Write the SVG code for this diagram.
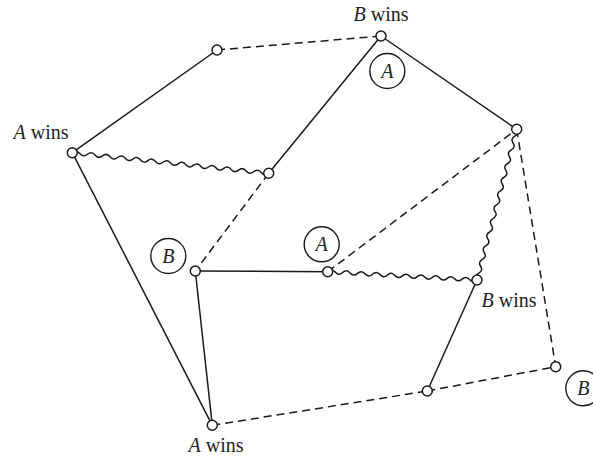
<svg xmlns="http://www.w3.org/2000/svg" width="593" height="458" viewBox="0 0 593 458">
<style>
.e{stroke:#1a1a1a;stroke-width:1.5;fill:none}
.d{stroke-dasharray:8,5}
.n{fill:#fff;stroke:#1a1a1a;stroke-width:1.5}
.c{fill:#fff;stroke:#1a1a1a;stroke-width:1.4}
text{font-family:"Liberation Serif","Times New Roman",serif;font-size:20px;fill:#222}
.i{font-style:italic}
.m{text-anchor:middle}
</style>
<rect width="593" height="458" fill="#fff"/>
<g id="connectors">
<line class="e d" x1="217" y1="50" x2="381" y2="36"/>
<line class="e" x1="217" y1="50" x2="72.3" y2="152.7"/>
<line class="e" x1="381" y1="36" x2="516.7" y2="129.3"/>
<line class="e" x1="381" y1="36" x2="268.7" y2="173.3"/>
<line class="e" x1="72.3" y1="152.7" x2="212.3" y2="425.3"/>
<line class="e d" x1="268.7" y1="173.3" x2="195.3" y2="271"/>
<line class="e" x1="195.3" y1="271" x2="327.7" y2="271.7"/>
<line class="e" x1="195.3" y1="271" x2="212.3" y2="425.3"/>
<line class="e d" x1="327.7" y1="271.7" x2="516.7" y2="129.3"/>
<line class="e d" x1="516.7" y1="129.3" x2="555.7" y2="366.7"/>
<line class="e" x1="477" y1="280" x2="427.3" y2="391"/>
<line class="e d" x1="427.3" y1="391" x2="555.7" y2="366.7"/>
<line class="e d" x1="212.3" y1="425.3" x2="427.3" y2="391"/>
<path class="e" transform="translate(72.3,152.7) rotate(5.99)" d="M0,0 q3.8,-3.8 7.6,0 t7.6,0 t7.6,0 t7.6,0 t7.6,0 t7.6,0 t7.6,0 t7.6,0 t7.6,0 t7.6,0 t7.6,0 t7.6,0 t7.6,0 t7.6,0 t7.6,0 t7.6,0 t7.6,0 t7.6,0 t7.6,0 t7.6,0 t7.6,0 t7.6,0 t7.6,0 t7.6,0 t7.6,0 t7.6,0"/>
<path class="e" transform="translate(327.7,271.7) rotate(3.18)" d="M0,0 q3.74,-3.8 7.475,0 t7.475,0 t7.475,0 t7.475,0 t7.475,0 t7.475,0 t7.475,0 t7.475,0 t7.475,0 t7.475,0 t7.475,0 t7.475,0 t7.475,0 t7.475,0 t7.475,0 t7.475,0 t7.475,0 t7.475,0 t7.475,0 t7.475,0"/>
<path class="e" transform="translate(516.7,129.3) rotate(104.76)" d="M0,0 q3.54,-3.8 7.08,0 t7.08,0 t7.08,0 t7.08,0 t7.08,0 t7.08,0 t7.08,0 t7.08,0 t7.08,0 t7.08,0 t7.08,0 t7.08,0 t7.08,0 t7.08,0 t7.08,0 t7.08,0 t7.08,0 t7.08,0 t7.08,0 t7.08,0 t7.08,0 t7.08,0"/>
</g>
<g id="n1"><circle class="n" cx="217" cy="50" r="5"/></g>
<g id="n2"><circle class="n" cx="381" cy="36" r="5"/><text x="381" y="21" class="m"><tspan class="i">B</tspan> wins</text></g>
<g id="n3"><circle class="n" cx="516.7" cy="129.3" r="5"/></g>
<g id="n4"><circle class="n" cx="72.3" cy="152.7" r="5"/><text x="41" y="139" class="m"><tspan class="i">A</tspan> wins</text></g>
<g id="n5"><circle class="n" cx="268.7" cy="173.3" r="5"/></g>
<g id="n6"><circle class="n" cx="195.3" cy="271" r="5"/></g>
<g id="n7"><circle class="n" cx="327.7" cy="271.7" r="5"/></g>
<g id="n8"><circle class="n" cx="477" cy="280" r="5"/><text x="509" y="307" class="m"><tspan class="i">B</tspan> wins</text></g>
<g id="n9"><circle class="n" cx="555.7" cy="366.7" r="5"/></g>
<g id="n10"><circle class="n" cx="427.3" cy="391" r="5"/></g>
<g id="n11"><circle class="n" cx="212.3" cy="425.3" r="5"/><text x="216" y="452" class="m"><tspan class="i">A</tspan> wins</text></g>
<g id="tagA1"><circle class="c" cx="387.3" cy="71" r="17.5"/><text x="387.3" y="77.5" class="m i">A</text></g>
<g id="tagB1"><circle class="c" cx="168.3" cy="256" r="17.5"/><text x="168.3" y="262.5" class="m i">B</text></g>
<g id="tagA2"><circle class="c" cx="321.7" cy="244.3" r="17.5"/><text x="321.7" y="250.8" class="m i">A</text></g>
<g id="tagB2"><circle class="c" cx="583.3" cy="388.3" r="17.5"/><text x="583.3" y="394.8" class="m i">B</text></g>
</svg>
